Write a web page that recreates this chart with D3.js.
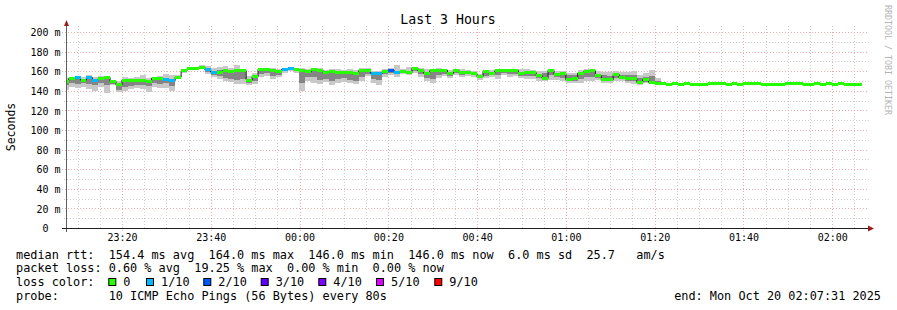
<!DOCTYPE html>
<html><head><meta charset="utf-8">
<script src="https://cdn.jsdelivr.net/npm/d3@7"></script>
<style>
body{margin:0;background:#fff}
svg{display:block}
text{font-family:"DejaVu Sans Mono",monospace;fill:#000}
</style>
</head><body>
<svg id="chart" width="897" height="310"></svg>
<script>
// ---------------- data ----------------
const title = "Last 3 Hours";
const yAxisTitle = "Seconds";
const watermark = "RRDTOOL / TOBI OETIKER";
const yTickValues = [0,20,40,60,80,100,120,140,160,180,200];
const yTickLabels = ["0\u00a0\u00a0","20 m","40 m","60 m","80 m","100 m","120 m","140 m","160 m","180 m","200 m"];
const xTickLabels = ["23:20","23:40","00:00","00:20","00:40","01:00","01:20","01:40","02:00"];
const stepSeconds = 80;

// median rtt per 80 s step (ms), first step is partially visible
const median = [149.7,152.4,153.7,151,153.5,151,153,153.5,149.5,146,151,151,151,150.5,149.5,152.7,152.7,151.5,150.5,154,
160.5,162.5,162.5,164,161.5,159,158.8,160.5,160,160.5,160.5,151,154.5,162,162,160.5,160,162,162.5,161.5,
161,159.5,162,160.5,158.6,159.5,158.6,158.6,158.6,157.5,160.5,160.9,157.8,157.8,160.2,161,159,159.5,158.6,163,
160.5,157.8,160.5,161,161,157.5,160.5,158.6,158.6,157.5,154.3,159.5,158,160.5,160.5,161,160.5,157.5,158.6,158.6,
155.4,152.7,161,156.8,157.5,151.3,152.4,158,159.5,160.5,155.4,151.3,151.3,156.8,153.4,152.7,152.7,148.6,151.3,148.6,
147,147.6,146,147.6,146,147.6,146,146,146,147.6,147,147.6,146,147.6,146,147.3,147.3,147.3,146,146,
146,146,147.3,147.3,147.3,146,146,147.6,146,147.6,146,147.6,146,146,146];
// lost pings out of 10 per step
const lossTenths = [0,0,1,0,1,1,0,0,0,0,0,0,0,0,0,0,0,1,1,0,
0,0,0,0,1,1,0,0,0,0,0,0,0,0,0,0,0,1,1,0,
0,0,0,0,0,0,0,0,0,0,0,0,1,1,0,2,1,0,0,0,
0,0,0,0,0,0,0,0,0,0,0,0,0,0,0,0,0,0,0,0,
0,0,0,0,0,0,0,0,0,0,0,0,0,0,0,0,0,0,0,0,
0,0,0,0,0,0,0,0,0,0,0,0,0,0,0,0,0,0,0,0,
0,0,0,0,0,0,0,0,0,0,0,0,0,0,0];
// smoke (spread of the 10 pings) per step, ms
const smokeMax = [153,154,155,154,156,154,155,155,151,150,154,153,154,156,153,154,155,157,156,156,
161,164,164,166,165,163,164,165,163,166,162,155,158,163,163,163,162,163,164,163,
163,162,163,163,161,162,162,161,162,161,163,163,160,160,162,163,166,162,164,164,
163,162,162,163,162,161,162,162,161,160,157,161,161,162,162,162,162,162,162,161,
160,160,162,160,160,158,158,161,162,162,160,159,159,160,159,159,160,156,158,161,153,149];
const smokeMin = [141,144,143,144,142,140,144,138,146,139,140,142,143,142,139,144,143,143,140,153,
158,161,161,162,157,154,152,150,149,147,147,146,147,154,155,152,154,158,160,158,
140,150,148,147,149,146,148,149,148,147,150,155,148,146,154,156,154,157,156,158,
154,150,148,153,155,153,156,154,155,154,151,153,154,152,156,154,155,153,152,152,
150,150,151,151,150,148,148,148,150,150,151,148,148,150,150,148,147,146,148,147,146,146];
const smokeInnerHi = [151,153,154,152,154,152,154,154,150,148,152,152,152,152,151,153,153,153,152,155,
161,163,163,164,163,160,161,161,161,161,161,152,155,162,162,161,161,162,163,162,
160,160,162,161,159,160,159,159,159,158,161,161,158,158,161,161,160,160,160,163,
161,158,161,161,161,158,161,159,159,158,155,160,159,161,161,161,161,158,159,159,
157,158,161,158,158,156,156,159,160,161,157,156,155,158,156,156,156,153,154,155,150,148];
const smokeInnerLo = [146,148,147,148,147,146,148,146,147,141,144,145,146,146,145,148,147,148,145,154,
159,162,162,163,159,156,155,153,152,151,152,148,150,157,158,155,156,160,161,160,
148,154,154,151,152,150,152,153,151,150,154,157,152,151,157,158,157,158,157,160,
157,153,152,156,157,155,158,156,157,156,153,155,156,156,158,157,157,155,155,155,
153,152,156,154,153,150,150,152,154,154,153,150,150,153,152,150,150,148,149,148,147,147];

const lossLabels = ["0","1/10","2/10","3/10","4/10","5/10","9/10"];
const lossColors = ["#26ff00","#00b8ff","#0059ff","#5e00ff","#7e00ff","#dd00ff","#ff0000"];
const lossLegendIndex = {0:0,1:1,2:2,3:3,4:4,5:5,9:6};

const statLines = [
  "median rtt:  154.4 ms avg  164.0 ms max  146.0 ms min  146.0 ms now  6.0 ms sd  25.7   am/s",
  "packet loss: 0.60 % avg  19.25 % max  0.00 % min  0.00 % now",
  "probe:       10 ICMP Echo Pings (56 Bytes) every 80s"
];
const lossColorLabel = "loss color:";
const endLabel = "end: Mon Oct 20 02:07:31 2025";

// ---------------- layout ----------------
const plotL = 66.6, plotR = 865.6, plotTop = 26, plotBottom = 228;
const tStart = new Date(2025,9,19,23,7,31), tEnd = new Date(2025,9,20,2,7,31);
const firstStep = new Date(2025,9,19,23,6,39);

const svg = d3.select("#chart");
const x = d3.scaleTime().domain([tStart,tEnd]).range([plotL,plotR]);
const y = d3.scaleLinear().domain([0,(plotBottom-plotTop)/0.98]).range([plotBottom,plotTop]);

const minorGrid = "#cfcfcf", majorGrid = "#f0a8a8";

// grid
const g = svg.append("g");
const minorTimes = x.ticks(d3.timeMinute.every(5)).filter(d => d.getMinutes()%20 !== 0);
const majorTimes = x.ticks(d3.timeMinute.every(20));
const yMinor = d3.range(10,201,20);
const yMajor = yTickValues.filter(v => v>0);

g.selectAll(".hmin").data(yMinor).join("line")
  .attr("x1",64).attr("x2",869).attr("y1",d=>Math.round(y(d))+0.5).attr("y2",d=>Math.round(y(d))+0.5)
  .attr("stroke",minorGrid).attr("stroke-dasharray","1,2");
g.selectAll(".vmin").data(minorTimes).join("line")
  .attr("x1",d=>Math.round(x(d))+0.5).attr("x2",d=>Math.round(x(d))+0.5).attr("y1",plotTop).attr("y2",230)
  .attr("stroke",minorGrid).attr("stroke-dasharray","1,2");
g.selectAll(".hmaj").data(yMajor).join("line")
  .attr("x1",62).attr("x2",869).attr("y1",d=>Math.round(y(d))+0.5).attr("y2",d=>Math.round(y(d))+0.5)
  .attr("stroke",majorGrid).attr("stroke-dasharray","1,2");
g.selectAll(".vmaj").data(majorTimes).join("line")
  .attr("x1",d=>Math.round(x(d))+0.5).attr("x2",d=>Math.round(x(d))+0.5).attr("y1",plotTop).attr("y2",232)
  .attr("stroke",majorGrid).attr("stroke-dasharray","1,2");

// clip
svg.append("clipPath").attr("id","clip").append("rect")
  .attr("x",plotL).attr("y",plotTop).attr("width",plotR-plotL).attr("height",plotBottom-plotTop);
const data = svg.append("g").attr("clip-path","url(#clip)");

const stepT = i => new Date(firstStep.getTime() + i*stepSeconds*1000);
const steps = median.map((m,i)=>({i, t0:stepT(i), t1:stepT(i+1), m, loss:lossTenths[i]}));
const smokeSteps = smokeMax.map((v,i)=>({t0:stepT(i), t1:stepT(i+1), max:v, min:smokeMin[i], ih:smokeInnerHi[i], il:smokeInnerLo[i]}));

data.selectAll(".smo").data(smokeSteps).join("rect")
  .attr("x",d=>x(d.t0)).attr("width",d=>x(d.t1)-x(d.t0))
  .attr("y",d=>y(d.max)).attr("height",d=>y(d.min)-y(d.max))
  .attr("fill","#c8c8c8").attr("shape-rendering","crispEdges");
data.selectAll(".smi").data(smokeSteps).join("rect")
  .attr("x",d=>x(d.t0)).attr("width",d=>x(d.t1)-x(d.t0))
  .attr("y",d=>y(d.ih)).attr("height",d=>y(d.il)-y(d.ih))
  .attr("fill","#858585").attr("shape-rendering","crispEdges");

// black median step line
const linePts = steps.map(d=>[d.t0,d.m]);
linePts.push([steps[steps.length-1].t1, steps[steps.length-1].m]);
data.append("path").datum(linePts)
  .attr("d", d3.line().x(d=>x(d[0])).y(d=>y(d[1])).curve(d3.curveStepAfter))
  .attr("fill","none").attr("stroke","#202020").attr("stroke-width",1);

// loss-coloured median bands
data.selectAll(".band").data(steps).join("rect")
  .attr("x",d=>x(d.t0)).attr("width",d=>x(d.t1)-x(d.t0))
  .attr("y",d=>y(d.m)-1.5).attr("height",3)
  .attr("fill",d=>lossColors[lossLegendIndex[d.loss]]).attr("shape-rendering","crispEdges");

// axes
const yAxis = d3.axisLeft(y).tickValues(yTickValues).tickFormat((d,i)=>yTickLabels[i]).tickSize(0).tickPadding(6);
const ya = svg.append("g").attr("transform",`translate(${plotL},0)`).call(yAxis);
ya.select(".domain").remove();
ya.selectAll("text").attr("font-size","10px").attr("font-family","DejaVu Sans Mono").attr("dy","0.36em");

const xAxis = d3.axisBottom(x).tickValues(majorTimes).tickFormat((d,i)=>xTickLabels[i]).tickSize(0).tickPadding(6);
const xa = svg.append("g").attr("transform",`translate(0,${plotBottom})`).call(xAxis);
xa.select(".domain").remove();
xa.selectAll("text").attr("font-size","10px").attr("font-family","DejaVu Sans Mono");

// axis lines + arrows
svg.append("line").attr("x1",66.5).attr("x2",66.5).attr("y1",232).attr("y2",24).attr("stroke","#606060");
svg.append("line").attr("x1",62).attr("x2",870).attr("y1",228.5).attr("y2",228.5).attr("stroke","#202020");
svg.append("path").attr("d","M64,26 L69,26 L66.5,20 Z").attr("fill","#9a1c1c");
svg.append("path").attr("d","M868,225.5 L868,231.5 L874,228.5 Z").attr("fill","#9a1c1c");

// titles
svg.append("text").attr("x",448).attr("y",24).attr("text-anchor","middle").attr("font-size","13.2px").text(title);
svg.append("text").attr("transform","translate(15,127) rotate(-90)").attr("text-anchor","middle")
  .attr("font-size","11.5px").text(yAxisTitle);
svg.append("text").attr("transform","translate(884.5,5) rotate(90)").attr("font-size","8.3px")
  .style("fill","#b4b4b4").text(watermark);

// legend
const fs = "11.85px";
const nb = s => s.replace(/ /g,"\u00a0");
const rowsY = [258.7,272.4,299.5];
statLines.forEach((s,ri)=>{
  svg.append("text").attr("x",16).attr("y",rowsY[ri]).attr("font-size",fs).text(nb(s));
});
svg.append("text").attr("x",16).attr("y",286).attr("font-size",fs).text(lossColorLabel);
const swX = [108.3,146,203.3,260.7,318.3,376,434.3];
const lg = svg.selectAll(".lg").data(lossLabels).join("g");
lg.append("rect").attr("x",(d,i)=>swX[i]+0.5).attr("y",278.5).attr("width",7).attr("height",7)
  .attr("fill",(d,i)=>lossColors[i]).attr("stroke","#000").attr("stroke-width",1);
lg.append("text").attr("x",(d,i)=>swX[i]+15).attr("y",286).attr("font-size",fs).text(d=>d);
svg.append("text").attr("x",881).attr("y",299.5).attr("text-anchor","end").attr("font-size",fs).text(endLabel);
</script>
</body></html>
